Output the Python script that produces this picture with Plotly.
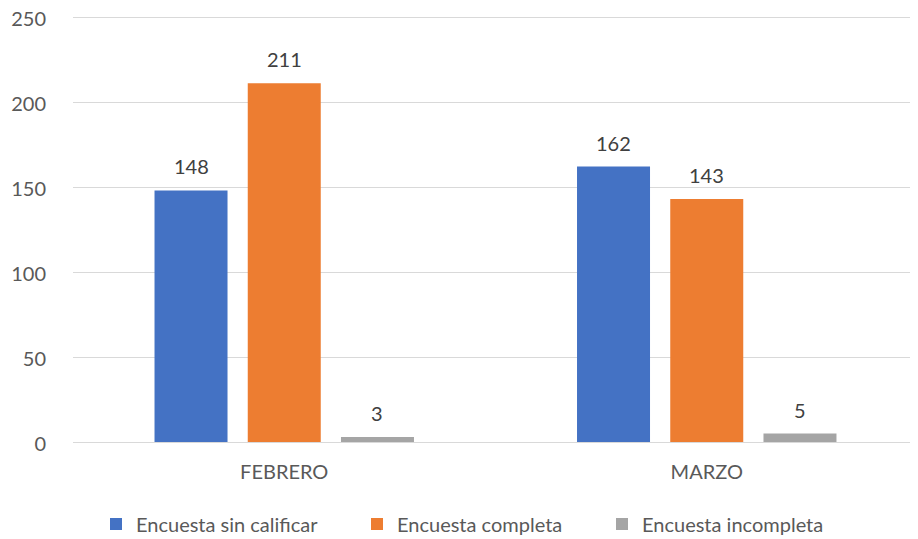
import plotly.graph_objects as go

months = ["FEBRERO", "MARZO"]
sin_calificar = [148, 162]
completa = [211, 143]
incompleta = [3, 5]

series = [
    ("Encuesta sin calificar", sin_calificar, "#4472C4"),
    ("Encuesta completa", completa, "#ED7D31"),
    ("Encuesta incompleta", incompleta, "#A5A5A5"),
]

font_family = "Lato, 'Open Sans', sans-serif"
text_color = "#595959"
label_size = 20

# the page body adds an 8px margin, so the figure is drawn 8px smaller
W, H = 910, 531

# bar slot width in category units (used to place the value labels)
bargap = 0.338
slot = (1 - bargap) / len(series)

# left edge of each legend entry, px (figure coords)
legend_left = [88, 349, 594]
legend_names = ["legend", "legend2", "legend3"]

fig = go.Figure()
for i, (name, values, color) in enumerate(series):
    fig.add_trace(go.Bar(
        x=months,
        y=values,
        name=name,
        legend=legend_names[i],
        showlegend=True,
        marker=dict(color=color, line=dict(width=0)),
    ))
    offset = (i - (len(series) - 1) / 2) * slot
    for j, v in enumerate(values):
        fig.add_annotation(
            x=j + offset, y=v, xref="x", yref="y",
            text=str(v), showarrow=False,
            yanchor="middle", yshift=24,
            font=dict(size=label_size, color="#404040", family=font_family),
        )

legend_style = dict(
    orientation="h",
    xref="container", yref="container",
    xanchor="left", yanchor="middle",
    y=15 / H,
    font=dict(size=label_size, color=text_color),
    bgcolor="rgba(0,0,0,0)",
)
layout_legends = {}
for lname, lx in zip(legend_names, legend_left):
    layout_legends[lname] = dict(legend_style, x=lx / W)

fig.update_layout(
    width=W,
    height=H,
    showlegend=True,
    margin=dict(l=65, r=0, t=8, b=97, autoexpand=False),
    plot_bgcolor="white",
    paper_bgcolor="white",
    barmode="group",
    bargap=bargap,
    bargroupgap=0.217,
    font=dict(family=font_family, size=label_size, color=text_color),
    xaxis=dict(
        showgrid=False,
        showline=True,
        linecolor="#D9D9D9",
        linewidth=1,
        ticks="outside",
        ticklen=12,
        tickcolor="white",
        tickfont=dict(size=label_size, color=text_color),
        automargin=False,
    ),
    yaxis=dict(
        range=[0, 250.6],
        tickvals=[0, 50, 100, 150, 200, 250],
        showgrid=True,
        gridcolor="#D9D9D9",
        gridwidth=1,
        zeroline=False,
        showline=False,
        ticks="outside",
        ticklen=22,
        tickcolor="white",
        tickfont=dict(size=label_size, color=text_color),
        ticklabeloverflow="allow",
        ticklabelshift=2,
        automargin=False,
    ),
    **layout_legends,
)

fig.write_html("out.html")
